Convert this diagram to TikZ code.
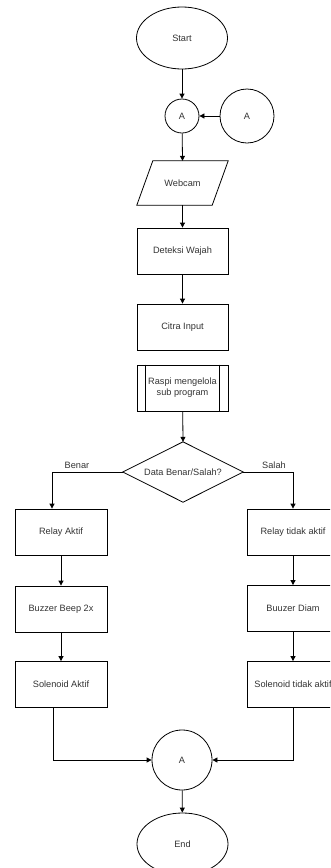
\documentclass[tikz,border=0pt]{standalone}
\usepackage{fontspec}
\setmainfont{Liberation Sans}
\usetikzlibrary{shapes.geometric,arrows.meta}
\definecolor{txt}{HTML}{333333}
\begin{document}
\begin{tikzpicture}[x=1pt,y=-1pt,
  every node/.style={font=\fontsize{9.2}{11}\selectfont, text=txt, inner sep=0pt},
  shapebox/.style={draw, line width=0.8pt, minimum width=91pt, minimum height=46pt, align=center},
  procbox/.style={shapebox, rectangle},
  termin/.style={draw, line width=0.8pt, ellipse, minimum width=91pt, minimum height=62pt},
  conn/.style={draw, line width=0.8pt, circle},
  ghost/.style={rectangle, minimum width=#1},
  arr/.style={line width=0.8pt, -{Triangle[length=5pt,width=5pt]}},
  lbl/.style={font=\fontsize{9.2}{11}\selectfont}
]
\useasboundingbox (0,0) rectangle (330,868);
\clip (0,0) rectangle (330,868);

\node[termin] (start) at (182,38) {Start};
\node[conn, minimum size=34pt] (a1) at (182,116) {A};
\node[conn, minimum size=54pt] (a2) at (247,116) {A};
\node[rectangle, minimum width=91pt, minimum height=44pt] (webcam) at (182.5,183) {Webcam};
\draw[line width=0.8pt] ([xshift=16pt]webcam.north west) -- (webcam.north east)
  -- ([xshift=-16pt]webcam.south east) -- (webcam.south west) -- cycle;
\node[procbox] (deteksi) at (182.5,251) {Deteksi Wajah};
\node[procbox] (citra) at (182.5,327) {Citra Input};
\node[procbox] (raspi) at (182.5,388) {Raspi mengelola\\sub program};
\draw[line width=0.8pt] ([xshift=9pt]raspi.north west) -- ([xshift=9pt]raspi.south west);
\draw[line width=0.8pt] ([xshift=-9pt]raspi.north east) -- ([xshift=-9pt]raspi.south east);
\node[rectangle, minimum width=120pt, minimum height=60pt] (dia) at (183,472) {Data Benar/Salah?};
\draw[line width=0.8pt] (dia.north) -- (dia.east) -- (dia.south) -- (dia.west) -- cycle;

\node[procbox, minimum width=92pt] (relayA) at (61,532) {Relay Aktif};
\node[procbox, minimum width=92pt] (buzzA) at (61,609) {Buzzer Beep 2x};
\node[procbox, minimum width=92pt] (solA) at (61,684.5) {Solenoid Aktif};
\node[procbox, minimum width=92pt] (relayT) at (293,532) {Relay tidak aktif};
\node[procbox, minimum width=92pt] (buzzT) at (293,608.5) {Buuzer Diam};
\node[procbox, minimum width=92pt] (solT) at (293,684.5) {Solenoid tidak aktif};

\node[conn, minimum size=60pt] (a3) at (182,760) {A};
\node[termin] (end) at (182.5,844) {End};

\node[lbl] (benar) at (77,465) {Benar};
\node[lbl] (salah) at (274,465) {Salah};

\coordinate (inA) at ([xshift=-9pt]relayA.north);
\coordinate (outA) at ([xshift=-8pt]solA.south);

\draw[arr] (start) -- (a1);
\draw[arr] (a2) -- (a1);
\draw[arr] (a1) -- (webcam.north);
\draw[arr] (webcam.south) -- (deteksi);
\draw[arr] (deteksi) -- (citra);
\draw[arr] (raspi) -- (dia.north);
\draw[arr] (dia.west) -| (inA);
\draw[arr] (dia.east) -| (relayT.north);
\draw[arr] (relayA) -- (buzzA);
\draw[arr] (buzzA) -- (solA);
\draw[arr] (relayT) -- (buzzT);
\draw[arr] (buzzT) -- (solT);
\draw[arr] (outA) |- (a3.west);
\draw[arr] (solT.south) |- (a3.east);
\draw[arr] (a3) -- (end);
\end{tikzpicture}
\end{document}
